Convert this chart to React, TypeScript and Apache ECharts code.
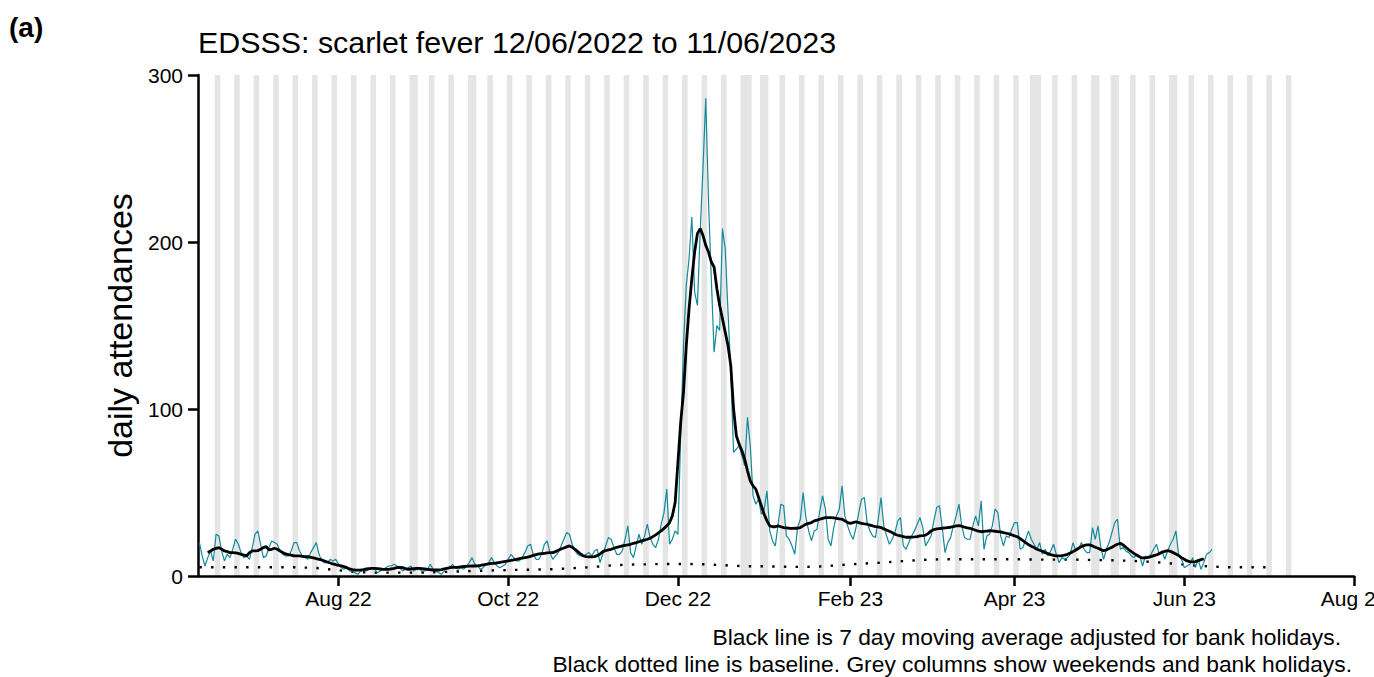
import React, { useEffect, useRef } from "react";
import * as echarts from "echarts";

// Day index 0 = 12 June 2022 (Sunday); one value per day up to 11 June 2023 (index 364)
const startDate = "2022-06-12";

// Daily scarlet fever ED attendances (rows are weeks, Sunday..Saturday)
const dailyAttendances = [
  20, 12, 6, 11, 15, 9, 25,
  24, 15, 9, 13, 11, 16, 22,
  19, 14, 11, 12, 10, 17, 25,
  27, 19, 11, 12, 17, 21, 20,
  19, 15, 13, 12, 12, 15, 20,
  20, 15, 12, 11, 10, 14, 17,
  20, 13, 9, 8, 8, 10, 9,
  10, 7, 5, 4, 5, 3, 3,
  2, 1, 3, 4, 3, 4, 5,
  4, 2, 3, 4, 5, 6, 6,
  7, 6, 5, 3, 4, 5, 6,
  3, 4, 4, 3, 3, 4, 7,
  4, 3, 2, 1, 3, 5, 5,
  7, 5, 4, 5, 4, 6, 8,
  11, 7, 6, 4, 5, 7, 8,
  11, 8, 6, 5, 6, 7, 10,
  13, 11, 9, 9, 11, 14, 18,
  19, 13, 10, 10, 13, 19, 21,
  14, 10, 12, 14, 18, 22, 26,
  25, 19, 15, 13, 12, 12, 13,
  14, 12, 15, 16, 8, 13, 18,
  23, 22, 17, 13, 13, 15, 22,
  30, 14, 11, 18, 25, 19, 24,
  31, 23, 19, 17, 22, 31, 38,
  52, 19, 22, 27, 25, 84, 138,
  174, 190, 215, 170, 162, 206, 244,
  286, 224, 178, 134, 150, 147, 208,
  196, 158, 122, 74, 76, 78, 72,
  66, 95, 78, 48, 43, 46, 37,
  40, 51, 27, 21, 18, 31, 43,
  42, 24, 22, 18, 13, 29, 34,
  50, 35, 27, 21, 27, 28, 39,
  48, 40, 22, 18, 29, 36, 40,
  54, 36, 30, 25, 22, 29, 38,
  46, 47, 32, 27, 24, 23, 34,
  47, 30, 24, 19, 22, 26, 33,
  35, 18, 16, 20, 24, 27, 31,
  35, 29, 18, 21, 24, 33, 41,
  42, 29, 14, 20, 23, 30, 36,
  43, 30, 23, 22, 22, 30, 36,
  30, 45, 16, 24, 25, 30, 40,
  38, 24, 18, 24, 23, 28, 32,
  32, 16, 17, 22, 27, 22, 19,
  16, 20, 13, 16, 12, 15, 19,
  13, 8, 11, 10, 11, 13, 20,
  15, 16, 20, 16, 14, 14, 29,
  22, 30, 17, 10, 16, 20, 26,
  32, 34, 16, 17, 15, 14, 12,
  11, 13, 12, 6, 12, 11, 13,
  16, 19, 13, 15, 10, 15, 19,
  22, 27, 12, 10, 5, 6, 7,
  11, 5, 10, 4, 8, 13, 14,
  16,
];

// 7 day moving average adjusted for bank holidays (same day index; null where not defined)
const movingAverage = [
  null, null, null, 14, 15, 16, 16.5,
  17, 16, 15, 14.6, 14, 14, 13.8,
  13.5, 13, 12.5, 12, 14, 15, 15,
  15.2, 16, 17, 17.6, 15.6, 16, 16.6,
  16, 15, 14, 13.2, 12.8, 12.5, 12,
  12, 12, 11.8, 11.6, 11.6, 11.2, 10.8,
  10.4, 10, 9.6, 9, 8.4, 7.8, 7.2,
  6.8, 6.4, 6, 5.6, 5, 4.2, 3.8,
  3.6, 3.5, 3.6, 3.8, 4.2, 4.4, 4.6,
  4.6, 4.4, 4.2, 4, 4, 4, 4.3,
  4.6, 5, 5.2, 5, 4.4, 4, 4.2,
  4.4, 4.6, 4.6, 4.4, 4.2, 4, 3.8,
  3.6, 3.6, 3.6, 3.8, 4.2, 4.6, 5,
  5.2, 5.2, 5.3, 5.5, 5.7, 5.8, 5.9,
  6, 6, 6.1, 6.3, 6.6, 6.9, 7.2,
  7.5, 7.6, 7.9, 8.2, 8.5, 8.8, 9.1,
  9.3, 9.6, 10, 10.4, 10.7, 11, 11.3,
  11.8, 12.3, 12.8, 13.2, 13.4, 13.6, 13.8,
  14, 14, 14.6, 15.4, 16.2, 16.8, 17.4,
  18, 17.2, 16, 14.6, 13.2, 12, 11.6,
  11.5, 11.5, 11.6, 12.2, 13.2, 14.6, 15.2,
  15.6, 16, 16.6, 17.2, 17.6, 18, 18.4,
  18.6, 19, 19.6, 20, 20.5, 21, 21.5,
  22, 22.6, 23.6, 24.6, 25.8, 27, 28.5,
  30, 32, 36, 44, 68, 92, 110,
  138, 160, 178, 194, 205, 208, 204,
  198, 194, 188, 185, 172, 162, 154,
  146, 138, 126, 100, 84, 79, 75,
  70, 63, 57, 54, 52, 47, 42,
  37, 33, 30, 29.5, 29.5, 30, 29.5,
  29, 28.8, 28.6, 28.5, 28.6, 28.6, 29,
  30, 31, 31.5, 32, 33, 33.5, 34,
  34.5, 35, 35, 35, 34.8, 34.5, 34.2,
  34, 33, 32, 31.5, 32, 32.5, 32,
  31.5, 31.2, 31, 30.5, 30, 29.6, 29.4,
  29, 28.2, 27.5, 26.8, 26, 25, 24.4,
  24, 23.6, 23.2, 23.2, 23.3, 23.4, 23.6,
  24, 24.2, 24.5, 25.5, 27, 27.8, 28.2,
  28.4, 28.6, 28.8, 29, 29.2, 29.5, 30,
  30.2, 29.8, 29.2, 28.8, 28.6, 28, 27.4,
  26.8, 26.5, 26.7, 26.9, 27.1, 27, 26.8,
  26.6, 26.4, 26, 25.6, 25.2, 24.6, 24,
  23.5, 22.4, 21.2, 20, 18.8, 17.8, 17,
  16, 15.4, 14.8, 14, 13.4, 12.8, 12.4,
  12, 12, 12.2, 12.5, 13, 13.8, 14.6,
  15.6, 16.6, 17.6, 18.3, 18.6, 18.6, 18,
  17.2, 16.6, 15.8, 15.2, 15.6, 16.4, 17.2,
  18.2, 19, 19.6, 18.6, 17.2, 15.8, 14.6,
  13.4, 12.4, 11.4, 10.8, 10.8, 11.1, 11.6,
  12.2, 12.6, 13.4, 14.2, 14.8, 15.2, 14.8,
  14, 13.2, 12.2, 11, 10, 9, 8.6,
  8.5, 8.6, 9.2, 9.8, 10.2, null, null,
  null,
];

// Baseline (read weekly)
const baselineDays = [
  0, 7, 14, 21, 28, 35, 42, 49, 56, 63, 70, 77, 84, 91, 98, 105, 112, 119, 126, 133,
  140, 147, 154, 161, 168, 175, 182, 189, 196, 203, 210, 217, 224, 231, 238, 245, 252,
  259, 266, 273, 280, 287, 294, 301, 308, 315, 322, 329, 336, 343, 350, 357, 364, 371,
  378, 386,
];
const baselineValues = [
  5.2, 5.2, 5.2, 5.2, 5.2, 5.2, 4.8, 3.6, 2.4, 2, 2, 2, 2.2, 2.6, 3, 3.3, 3.6, 3.8, 4, 4.6,
  5.2, 6.2, 6.8, 7, 7.2, 7.2, 7, 6.4, 5.8, 5.8, 5.6, 5.4, 5.8, 6.6, 7.4, 8, 8.8,
  9.6, 10, 10, 10, 10, 10, 9.8, 9.8, 9.8, 9.6, 9.4, 9, 8.4, 7.4, 6.4, 5.6, 5.2,
  5.2, 5.2,
];

// Grey columns: weekends and bank holidays
const bankHolidays = [
  "2022-08-29", "2022-09-19", "2022-12-26", "2022-12-27", "2023-01-02",
  "2023-04-07", "2023-04-10", "2023-05-01", "2023-05-08", "2023-05-29",
];
const shadeFirstDay = "2022-06-18";
const shadeLastDay = "2023-07-09";

// Axes
const xAxisFirst = "2022-06-12";
const xAxisLast = "2023-08-01";
const xTickDates = ["2022-08-01", "2022-10-01", "2022-12-01", "2023-02-01", "2023-04-01", "2023-06-01", "2023-08-01"];
const xTickLabels = ["Aug 22", "Oct 22", "Dec 22", "Feb 23", "Apr 23", "Jun 23", "Aug 23"];
const yMin = 0;
const yMax = 300;
const yInterval = 100;

const titleText = "EDSSS: scarlet fever 12/06/2022 to 11/06/2023";
const panelLabel = "(a)";
const yAxisTitle = "daily attendances";
const captionLines = [
  "Black line is 7 day moving average adjusted for bank holidays.",
  "Black dotted line is baseline. Grey columns show weekends and bank holidays.",
];

const DAY_MS = 86400000;
function utc(iso: string) {
  const [y, m, d] = iso.split("-").map(Number);
  return Date.UTC(y, m - 1, d);
}
function dayIndex(iso: string) {
  return Math.round((utc(iso) - utc(startDate)) / DAY_MS);
}

const FONT = "'Liberation Sans', Arial, Helvetica, sans-serif";
const TEAL = "#13899c";
const GREY = "#e5e5e5";

export default function App() {
  const ref = useRef<HTMLDivElement>(null);

  useEffect(() => {
    if (!ref.current) return;
    const chart = echarts.init(ref.current, null, { renderer: "svg" });

    const holidaySet = new Set(bankHolidays.map(dayIndex));
    const shadeRanges: number[][] = [];
    const startMs = utc(startDate);
    for (let d = dayIndex(shadeFirstDay); d <= dayIndex(shadeLastDay); d++) {
      const wd = new Date(startMs + d * DAY_MS).getUTCDay();
      if (wd === 0 || wd === 6 || holidaySet.has(d)) {
        const last = shadeRanges[shadeRanges.length - 1];
        if (last && last[1] === d - 1) last[1] = d;
        else shadeRanges.push([d, d]);
      }
    }

    const tickIdx = xTickDates.map(dayIndex);
    const labelOf: Record<number, string> = {};
    tickIdx.forEach((t, i) => (labelOf[t] = xTickLabels[i]));

    const daily = dailyAttendances.map((v, i) => [i, v]);
    const ma = movingAverage.map((v, i) => [i, v]).filter((p) => p[1] !== null);
    const baseline = baselineDays.map((d, i) => [d, baselineValues[i]]);

    const axisLineStyle = { color: "#000", width: 2.5 };

    chart.setOption({
      animation: false,
      backgroundColor: "#fff",
      grid: { left: 198, right: 20, top: 75, bottom: 101, containLabel: false, outerBoundsMode: "none" },
      xAxis: {
        type: "value",
        min: dayIndex(xAxisFirst) - 0.5,
        max: dayIndex(xAxisLast),
        z: 3,
        axisLine: { show: true, onZero: false, lineStyle: axisLineStyle },
        axisTick: { show: true, length: 10, lineStyle: axisLineStyle, customValues: tickIdx },
        axisLabel: {
          show: true,
          customValues: tickIdx,
          formatter: (v: number) => labelOf[Math.round(v)] ?? "",
          color: "#000",
          fontFamily: FONT,
          fontSize: 21,
          margin: 12,
          hideOverlap: false,
        },
        splitLine: { show: false },
      },
      yAxis: {
        type: "value",
        min: yMin,
        max: yMax,
        interval: yInterval,
        z: 3,
        name: yAxisTitle,
        nameLocation: "middle",
        nameGap: 59,
        nameRotate: 90,
        nameTextStyle: { color: "#000", fontFamily: FONT, fontSize: 34 },
        axisLine: { show: true, onZero: false, lineStyle: axisLineStyle },
        axisTick: { show: true, length: 10, lineStyle: axisLineStyle },
        axisLabel: { color: "#000", fontFamily: FONT, fontSize: 21, margin: 15 },
        splitLine: { show: false },
      },
      series: [
        {
          type: "custom",
          z: 1,
          silent: true,
          clip: true,
          data: shadeRanges,
          encode: { x: [0, 1] },
          renderItem: (_params: any, api: any) => {
            const p0 = api.coord([api.value(0) - 0.5, yMax]);
            const p1 = api.coord([api.value(1) + 0.5, yMin]);
            return {
              type: "rect",
              shape: { x: p0[0], y: p0[1], width: p1[0] - p0[0], height: p1[1] - p0[1] },
              style: { fill: GREY },
            };
          },
        },
        {
          type: "line",
          z: 4,
          data: baseline,
          symbol: "none",
          silent: true,
          lineStyle: { color: "#000", width: 2.4, type: [2.4, 9.3] },
        },
        {
          type: "line",
          z: 5,
          data: daily,
          symbol: "none",
          silent: true,
          lineStyle: { color: TEAL, width: 1.2 },
        },
        {
          type: "line",
          z: 6,
          data: ma,
          symbol: "none",
          silent: true,
          lineStyle: { color: "#000", width: 2.8 },
        },
      ],
      graphic: [
        {
          type: "text",
          left: 9,
          top: 13,
          style: { text: panelLabel, font: `bold 28px ${FONT}`, fill: "#000" },
        },
        {
          type: "text",
          x: 198,
          y: 42,
          style: { text: titleText, font: `30.4px ${FONT}`, fill: "#000", verticalAlign: "middle" },
        },
        {
          type: "text",
          x: 1341,
          y: 637,
          style: { text: captionLines[0], font: `22.8px ${FONT}`, fill: "#000", align: "right", verticalAlign: "middle" },
        },
        {
          type: "text",
          x: 1352,
          y: 664,
          style: { text: captionLines[1], font: `22.8px ${FONT}`, fill: "#000", align: "right", verticalAlign: "middle" },
        },
      ],
    });

    return () => chart.dispose();
  }, []);

  return (
    <div
      ref={ref}
      style={{ position: "fixed", left: 0, top: 0, width: 1374, height: 677, background: "#fff" }}
    />
  );
}
